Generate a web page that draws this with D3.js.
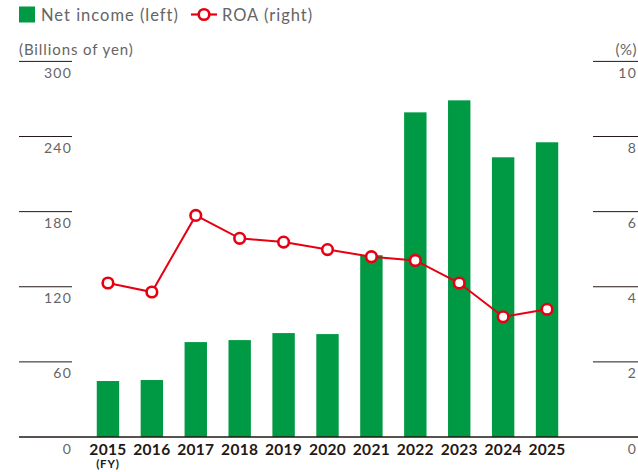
<!DOCTYPE html>
<html>
<head>
<meta charset="utf-8">
<script src="https://cdn.jsdelivr.net/npm/d3@7"></script>
<style>
  body { margin: 0; background: #fff; }
  svg { display: block; font-family: Lato, "Noto Sans", sans-serif; }
</style>
</head>
<body>
<script>
// data
const years = ["2015", "2016", "2017", "2018", "2019", "2020", "2021", "2022", "2023", "2024", "2025"];
const netIncome = [44.7, 45.5, 75.8, 77.4, 83.0, 82.2, 145.2, 259.3, 268.9, 223.4, 235.4];
const roa = [4.1, 3.86, 5.9, 5.29, 5.19, 4.99, 4.8, 4.7, 4.1, 3.2, 3.4];
const leftTicks = [0, 60, 120, 180, 240, 300];
const rightTicks = [0, 2, 4, 6, 8, 10];

const width = 638,
  height = 472;
const GREEN = "#009944",
  RED = "#e60012",
  INK = "#231815",
  GREY = "#666464";

const svg = d3
  .select("body")
  .append("svg")
  .attr("width", width)
  .attr("height", height);

const x = d3
  .scaleBand()
  .domain(years)
  .range([86, 569])
  .paddingInner(0.49)
  .paddingOuter(0.245);

const yLeft = d3.scaleLinear().domain([0, 300]).range([437, 61.4]);
const yRight = d3.scaleLinear().domain([0, 10]).range([437, 61.4]);

// left axis: short rules with labels under them
const left = svg.append("g").attr("class", "left-axis");
left
  .selectAll("line")
  .data(leftTicks.filter(d => d > 0))
  .join("line")
  .attr("x1", 19)
  .attr("x2", 72)
  .attr("y1", d => yLeft(d))
  .attr("y2", d => yLeft(d))
  .attr("stroke", INK)
  .attr("stroke-width", 1);
left
  .selectAll("text")
  .data(leftTicks)
  .join("text")
  .attr("x", 72)
  .attr("y", d => yLeft(d) + 16.5)
  .attr("text-anchor", "end")
  .attr("fill", GREY)
  .attr("font-size", 14)
  .attr("letter-spacing", 1.2)
  .text(d => d);

svg
  .append("text")
  .attr("x", 19)
  .attr("y", 55)
  .attr("fill", GREY)
  .attr("font-size", 15)
  .attr("letter-spacing", 0.9)
  .text("(Billions of yen)");

// right axis
const right = svg.append("g").attr("class", "right-axis");
right
  .selectAll("line")
  .data(rightTicks.filter(d => d > 0))
  .join("line")
  .attr("x1", 593)
  .attr("x2", 638)
  .attr("y1", d => yRight(d))
  .attr("y2", d => yRight(d))
  .attr("stroke", INK)
  .attr("stroke-width", 1);
right
  .selectAll("text")
  .data(rightTicks)
  .join("text")
  .attr("x", 637)
  .attr("y", d => yRight(d) + 16.5)
  .attr("text-anchor", "end")
  .attr("fill", GREY)
  .attr("font-size", 14)
  .attr("letter-spacing", 1.2)
  .text(d => d);

svg
  .append("text")
  .attr("x", 637)
  .attr("y", 55)
  .attr("text-anchor", "end")
  .attr("fill", GREY)
  .attr("font-size", 15)
  .attr("letter-spacing", 0.5)
  .text("(%)");

// bars
svg
  .append("g")
  .selectAll("rect")
  .data(netIncome)
  .join("rect")
  .attr("x", (d, i) => x(years[i]))
  .attr("y", d => yLeft(d))
  .attr("width", x.bandwidth())
  .attr("height", d => yLeft(0) - yLeft(d))
  .attr("fill", GREEN);

// baseline
svg
  .append("line")
  .attr("x1", 19)
  .attr("x2", 638)
  .attr("y1", yLeft(0))
  .attr("y2", yLeft(0))
  .attr("stroke", INK)
  .attr("stroke-width", 1.3);

// year labels
const cx = d => x(d) + x.bandwidth() / 2;
svg
  .append("g")
  .selectAll("text")
  .data(years)
  .join("text")
  .attr("x", d => cx(d))
  .attr("y", 454.5)
  .attr("text-anchor", "middle")
  .attr("fill", INK)
  .attr("font-size", 15.5)
  .attr("font-weight", 700)
  .attr("letter-spacing", 0.3)
  .text(d => d);

svg
  .append("text")
  .attr("x", cx(years[0]))
  .attr("y", 468)
  .attr("text-anchor", "middle")
  .attr("fill", INK)
  .attr("font-size", 11.5)
  .attr("font-weight", 700)
  .attr("letter-spacing", 0.8)
  .text("(FY)");

// ROA line
const line = d3
  .line()
  .x((d, i) => cx(years[i]))
  .y(d => yRight(d));

svg
  .append("path")
  .datum(roa)
  .attr("d", line)
  .attr("fill", "none")
  .attr("stroke", RED)
  .attr("stroke-width", 2);

svg
  .append("g")
  .selectAll("circle")
  .data(roa)
  .join("circle")
  .attr("cx", (d, i) => cx(years[i]))
  .attr("cy", d => yRight(d))
  .attr("r", 5.3)
  .attr("fill", "#fff")
  .attr("stroke", RED)
  .attr("stroke-width", 2.6);

// legend
const legend = svg.append("g").attr("class", "legend");
legend
  .append("rect")
  .attr("x", 19)
  .attr("y", 6.5)
  .attr("width", 16)
  .attr("height", 16)
  .attr("fill", GREEN);
legend
  .append("text")
  .attr("x", 41)
  .attr("y", 20.5)
  .attr("fill", GREY)
  .attr("font-size", 16.5)
  .attr("letter-spacing", 1)
  .text("Net income (left)");
legend
  .append("line")
  .attr("x1", 191)
  .attr("x2", 217)
  .attr("y1", 14.5)
  .attr("y2", 14.5)
  .attr("stroke", RED)
  .attr("stroke-width", 2.2);
legend
  .append("circle")
  .attr("cx", 204)
  .attr("cy", 14.5)
  .attr("r", 5.3)
  .attr("fill", "#fff")
  .attr("stroke", RED)
  .attr("stroke-width", 2.6);
legend
  .append("text")
  .attr("x", 222)
  .attr("y", 20.5)
  .attr("fill", GREY)
  .attr("font-size", 16.5)
  .attr("letter-spacing", 1)
  .text("ROA (right)");
</script>
</body>
</html>
